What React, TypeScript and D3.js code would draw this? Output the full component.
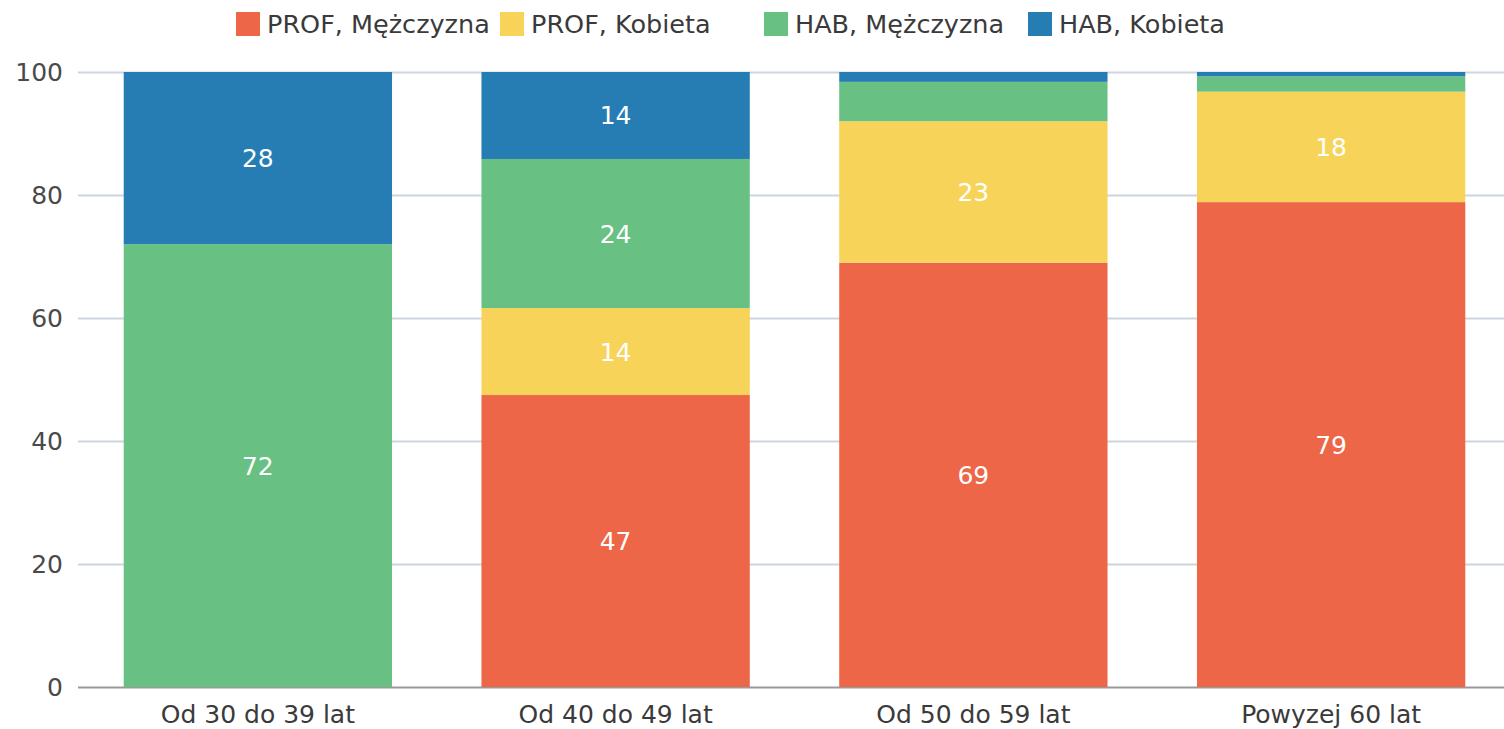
import React, { useEffect, useRef } from "react";
import * as d3 from "d3";

const categories = ["Od 30 do 39 lat", "Od 40 do 49 lat", "Od 50 do 59 lat", "Powyzej 60 lat"];
const seriesNames = ["PROF, Mężczyzna", "PROF, Kobieta", "HAB, Mężczyzna", "HAB, Kobieta"];
const seriesColors = ["#ED6647", "#F7D35A", "#68C182", "#267DB3"];

// percentages per series, one value per category
const profMale = [0, 47, 69, 79];
const profFemale = [0, 14, 23, 18];
const habMale = [72, 24, 6.4, 2.5];
const habFemale = [28, 14, 1.6, 0.7];

const yTicks = [0, 20, 40, 60, 80, 100];

const W = 1504;
const H = 729;
const FONT = "DejaVu Sans, sans-serif";

const App: React.FC = () => {
  const ref = useRef<SVGSVGElement>(null);

  useEffect(() => {
    const svg = d3.select(ref.current);
    svg.selectAll("*").remove();

    const margin = { top: 72, right: 0, bottom: 42, left: 78 };
    const plotBottom = H - margin.bottom;

    const rows = categories.map((c, i) => ({
      category: c,
      s0: profMale[i],
      s1: profFemale[i],
      s2: habMale[i],
      s3: habFemale[i],
    }));

    const keys = ["s0", "s1", "s2", "s3"];
    const stacked = d3
      .stack<any>()
      .keys(keys)
      .offset(d3.stackOffsetExpand)(rows);

    const x = d3
      .scaleBand()
      .domain(categories)
      .range([79, 1510])
      .paddingInner(0.25)
      .paddingOuter(0.125);

    const y = d3.scaleLinear().domain([0, 100]).range([plotBottom, margin.top]);

    // grid
    const grid = svg.append("g");
    grid
      .selectAll("line")
      .data(yTicks)
      .enter()
      .append("line")
      .attr("x1", margin.left)
      .attr("x2", W)
      .attr("y1", (d) => y(d) + 0.5)
      .attr("y2", (d) => y(d) + 0.5)
      .attr("stroke", (d) => (d === 0 ? "#999" : "#cdd6df"))
      .attr("stroke-width", 2);

    grid
      .selectAll("text")
      .data(yTicks)
      .enter()
      .append("text")
      .attr("x", 63)
      .attr("y", (d) => y(d))
      .attr("dy", "0.36em")
      .attr("text-anchor", "end")
      .style("font-family", FONT)
      .style("font-size", "25px")
      .attr("fill", "#4a4a4a")
      .text((d) => d);

    // bars
    const layers = svg
      .append("g")
      .selectAll("g")
      .data(stacked)
      .enter()
      .append("g")
      .attr("fill", (_, i) => seriesColors[i]);

    layers
      .selectAll("rect")
      .data((d) => d)
      .enter()
      .append("rect")
      .attr("x", (d) => x(d.data.category)!)
      .attr("width", x.bandwidth())
      .attr("y", (d) => y(d[1] * 100))
      .attr("height", (d) => y(d[0] * 100) - y(d[1] * 100));

    // value labels
    stacked.forEach((layer, si) => {
      const raw = [profMale, profFemale, habMale, habFemale][si];
      svg
        .append("g")
        .selectAll("text")
        .data(layer.map((d, i) => ({ d, v: raw[i], c: categories[i] })).filter((o) => o.v >= 10))
        .enter()
        .append("text")
        .attr("x", (o) => x(o.c)! + x.bandwidth() / 2)
        .attr("y", (o) => y(((o.d[0] + o.d[1]) / 2) * 100))
        .attr("dy", "0.36em")
        .attr("text-anchor", "middle")
        .style("font-family", FONT)
        .style("font-size", "25px")
        .attr("fill", "#fff")
        .text((o) => Math.round(o.v));
    });

    // category labels
    svg
      .append("g")
      .selectAll("text")
      .data(categories)
      .enter()
      .append("text")
      .attr("x", (d) => x(d)! + x.bandwidth() / 2)
      .attr("y", 714)
      .attr("dy", "0.36em")
      .attr("text-anchor", "middle")
      .style("font-family", FONT)
      .style("font-size", "25px")
      .attr("fill", "#3a3a3a")
      .text((d) => d);

    // legend
    const legend = svg
      .append("g")
      .selectAll("g")
      .data(seriesNames)
      .enter()
      .append("g")
      .attr("transform", (_, i) => `translate(${236 + i * 264},12)`);
    legend
      .append("rect")
      .attr("width", 24)
      .attr("height", 24)
      .attr("fill", (_, i) => seriesColors[i]);
    legend
      .append("text")
      .attr("x", 31)
      .attr("y", 12)
      .attr("dy", "0.36em")
      .style("font-family", FONT)
      .style("font-size", "25.5px")
      .attr("fill", "#3a3a3a")
      .text((d) => d);
  }, []);

  return (
    <div style={{ position: "fixed", left: 0, top: 0 }}>
      <svg ref={ref} width={W} height={H} style={{ display: "block", background: "#fff" }} />
    </div>
  );
};

export default App;
